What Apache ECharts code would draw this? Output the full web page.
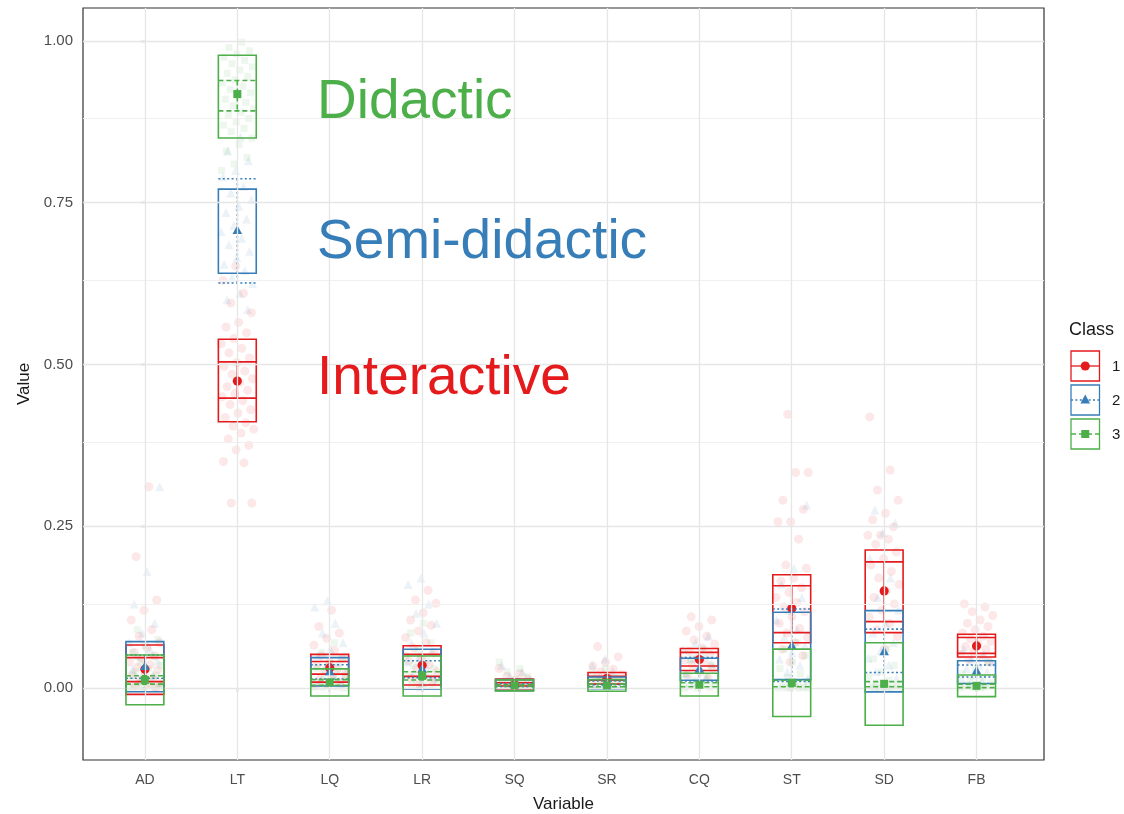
<!DOCTYPE html>
<html>
<head>
<meta charset="utf-8">
<title>Value by Variable and Class</title>
<script src="https://cdn.jsdelivr.net/npm/echarts@6/dist/echarts.min.js"></script>
<style>
  html, body { margin: 0; padding: 0; background: #ffffff; }
  #chart { width: 1124px; height: 814px; }
</style>
</head>
<body>
<div id="chart"></div>
<script>
// Variables shown along the x axis
const variables = ['AD', 'LT', 'LQ', 'LR', 'SQ', 'SR', 'CQ', 'ST', 'SD', 'FB'];
const classNames = ['1', '2', '3'];
const yTicks = [0, 0.25, 0.5, 0.75, 1];
const yMinorTicks = [0.125, 0.375, 0.625, 0.875];

// Class 1 (Interactive): mean, outer box, inner interval
const mean1    = [0.029, 0.4745, 0.031, 0.035, 0.0055, 0.015, 0.044, 0.123, 0.150, 0.065];
const boxLow1  = [-0.0098, 0.4116, 0.009, 0.0046, -0.003, 0.006, 0.027, 0.070, 0.0855, 0.048];
const boxHigh1 = [0.0665, 0.539, 0.052, 0.0654, 0.014, 0.024, 0.061, 0.175, 0.2133, 0.083];
const ciLow1   = [0.0098, 0.448, 0.0215, 0.018, 0.003, 0.012, 0.034, 0.0855, 0.1025, 0.0535];
const ciHigh1  = [0.047, 0.504, 0.041, 0.052, 0.008, 0.018, 0.055, 0.158, 0.195, 0.078];

// Class 2 (Semi-didactic)
const mean2    = [0.033, 0.707, 0.025, 0.029, 0.0045, 0.008, 0.029, 0.065, 0.056, 0.026];
const boxLow2  = [-0.0057, 0.641, 0.003, -0.002, -0.004, -0.001, 0.012, 0.013, -0.006, 0.007];
const boxHigh2 = [0.0716, 0.771, 0.047, 0.0598, 0.013, 0.017, 0.046, 0.117, 0.1195, 0.042];
const ciLow2   = [0.015, 0.626, 0.014, 0.016, 0.002, 0.005, 0.011, 0.010, 0.024, 0.017];
const ciHigh2  = [0.051, 0.787, 0.036, 0.042, 0.007, 0.011, 0.047, 0.122, 0.091, 0.0355];

// Class 3 (Didactic)
const mean3    = [0.0125, 0.918, 0.0086, 0.0186, 0.004, 0.004, 0.005, 0.008, 0.0065, 0.0033];
const boxLow3  = [-0.026, 0.850, -0.0124, -0.0124, -0.0045, -0.005, -0.0124, -0.044, -0.0575, -0.0134];
const boxHigh3 = [0.051, 0.978, 0.0296, 0.0495, 0.0125, 0.013, 0.0227, 0.060, 0.070, 0.020];
const ciLow3   = [0.006, 0.892, 0.004, 0.0124, 0.003, 0.002, 0.002, 0.002, 0.002, 0.0005];
const ciHigh3  = [0.019, 0.939, 0.013, 0.025, 0.005, 0.006, 0.008, 0.012, 0.0098, 0.006];

// Individual observations per variable (one list per variable), class 1
const obs1 = [
  [0.311, 0.203, 0.136, 0.12, 0.105, 0.09, 0.08, 0.07, 0.062, 0.055, 0.05, 0.045, 0.04, 0.036, 0.032, 0.028, 0.024, 0.02, 0.016, 0.012, 0.008, 0.005, 0.003, 0.0],
  [0.652, 0.63, 0.61, 0.595, 0.58, 0.565, 0.558, 0.549, 0.54, 0.532, 0.525, 0.518, 0.51, 0.503, 0.497, 0.49, 0.485, 0.478, 0.472, 0.466, 0.46, 0.455, 0.45, 0.444, 0.438, 0.43, 0.425, 0.418, 0.41, 0.405, 0.4, 0.394, 0.385, 0.375, 0.368, 0.35, 0.348, 0.286, 0.286],
  [0.12, 0.095, 0.085, 0.077, 0.066, 0.058, 0.05, 0.045, 0.04, 0.035, 0.03, 0.026, 0.022, 0.018, 0.014, 0.01, 0.006, 0.003],
  [0.151, 0.136, 0.131, 0.116, 0.105, 0.097, 0.088, 0.078, 0.07, 0.062, 0.055, 0.048, 0.042, 0.036, 0.03, 0.025, 0.02, 0.015, 0.01, 0.005],
  [0.03, 0.022, 0.018, 0.014, 0.011, 0.009, 0.007, 0.005, 0.003, 0.001],
  [0.064, 0.048, 0.04, 0.034, 0.029, 0.025, 0.021, 0.018, 0.015, 0.012, 0.009, 0.006, 0.003],
  [0.11, 0.105, 0.095, 0.088, 0.08, 0.074, 0.068, 0.062, 0.057, 0.052, 0.047, 0.043, 0.039, 0.035, 0.03, 0.025, 0.02, 0.015],
  [0.423, 0.333, 0.333, 0.29, 0.276, 0.257, 0.257, 0.23, 0.19, 0.185, 0.17, 0.165, 0.155, 0.148, 0.14, 0.132, 0.125, 0.118, 0.11, 0.1, 0.092, 0.085, 0.078, 0.07, 0.06, 0.05, 0.04],
  [0.419, 0.337, 0.306, 0.29, 0.27, 0.26, 0.249, 0.236, 0.236, 0.23, 0.222, 0.21, 0.2, 0.19, 0.18, 0.17, 0.16, 0.15, 0.14, 0.13, 0.12, 0.11, 0.1, 0.09, 0.08, 0.06],
  [0.13, 0.125, 0.118, 0.112, 0.105, 0.1, 0.095, 0.09, 0.085, 0.08, 0.076, 0.072, 0.068, 0.064, 0.06, 0.056, 0.052, 0.048, 0.044, 0.04]
];

// Class 2 observations
const obs2 = [
  [0.311, 0.18, 0.13, 0.1, 0.085, 0.07, 0.06, 0.05, 0.042, 0.035, 0.028, 0.02, 0.012, 0.005],
  [0.852, 0.83, 0.815, 0.8, 0.79, 0.775, 0.765, 0.755, 0.745, 0.735, 0.725, 0.715, 0.705, 0.695, 0.685, 0.675, 0.665, 0.655, 0.645, 0.635, 0.625, 0.61, 0.6, 0.585],
  [0.135, 0.125, 0.1, 0.085, 0.07, 0.06, 0.05, 0.04, 0.033, 0.026, 0.019, 0.012, 0.006],
  [0.17, 0.16, 0.13, 0.115, 0.1, 0.085, 0.07, 0.058, 0.048, 0.04, 0.032, 0.024, 0.016, 0.008],
  [0.035, 0.025, 0.018, 0.012, 0.008, 0.004, 0.001],
  [0.045, 0.035, 0.026, 0.018, 0.012, 0.006, 0.002],
  [0.08, 0.07, 0.06, 0.052, 0.045, 0.038, 0.03, 0.022, 0.015, 0.008],
  [0.283, 0.185, 0.16, 0.14, 0.12, 0.105, 0.09, 0.078, 0.066, 0.055, 0.045, 0.035, 0.025, 0.015, 0.008],
  [0.275, 0.255, 0.24, 0.2, 0.17, 0.14, 0.12, 0.1, 0.085, 0.07, 0.058, 0.046, 0.035, 0.025, 0.015, 0.005],
  [0.06, 0.052, 0.045, 0.04, 0.035, 0.03, 0.025, 0.02, 0.015, 0.01, 0.005]
];

// Class 3 observations
const obs3 = [
  [0.09, 0.075, 0.065, 0.055, 0.048, 0.04, 0.035, 0.03, 0.025, 0.02, 0.017, 0.014, 0.011, 0.008, 0.006, 0.004, 0.002, 0.001, 0.0, 0.0],
  [0.998, 0.99, 0.985, 0.98, 0.975, 0.97, 0.965, 0.96, 0.955, 0.95, 0.945, 0.94, 0.935, 0.93, 0.925, 0.92, 0.915, 0.91, 0.905, 0.9, 0.895, 0.89, 0.885, 0.88, 0.875, 0.87, 0.865, 0.86, 0.85, 0.84, 0.83, 0.82, 0.81, 0.8],
  [0.07, 0.055, 0.045, 0.038, 0.03, 0.024, 0.019, 0.015, 0.012, 0.009, 0.007, 0.005, 0.003, 0.002, 0.001, 0.0],
  [0.1, 0.085, 0.07, 0.06, 0.05, 0.042, 0.035, 0.03, 0.025, 0.02, 0.016, 0.012, 0.009, 0.006, 0.004, 0.002, 0.0],
  [0.04, 0.03, 0.025, 0.018, 0.014, 0.01, 0.007, 0.005, 0.003, 0.002, 0.001, 0.0],
  [0.03, 0.022, 0.016, 0.012, 0.008, 0.005, 0.003, 0.002, 0.001, 0.0],
  [0.06, 0.045, 0.035, 0.028, 0.022, 0.016, 0.012, 0.008, 0.005, 0.003, 0.001, 0.0, 0.0],
  [0.07, 0.06, 0.05, 0.04, 0.03, 0.022, 0.016, 0.01, 0.006, 0.004, 0.002, 0.001, 0.0, 0.0, 0.0, 0.0],
  [0.06, 0.045, 0.035, 0.025, 0.018, 0.012, 0.008, 0.005, 0.003, 0.002, 0.001, 0.0, 0.0, 0.0, 0.0],
  [0.04, 0.03, 0.022, 0.016, 0.011, 0.008, 0.005, 0.003, 0.002, 0.001, 0.0, 0.0]
];

// Annotation labels for the three classes
const classLabels = ['Interactive', 'Semi-didactic', 'Didactic'];

// ---- styling ----
const FONT = '"Liberation Sans", Arial, Helvetica, sans-serif';
const COLORS = ['#E41A1C', '#377EB8', '#4DAF4A'];
const DASHES = [null, [2, 2.4], [5, 3]];
const SYMBOLS = ['circle', 'triangle', 'rect'];
const BOX_HALF = 0.205;   // half box width, in category units
const JITTER = 0.18;      // horizontal spread of the observations

const stats = [
  [mean1, boxLow1, boxHigh1, ciLow1, ciHigh1],
  [mean2, boxLow2, boxHigh2, ciLow2, ciHigh2],
  [mean3, boxLow3, boxHigh3, ciLow3, ciHigh3]
];
const observations = [obs1, obs2, obs3];

// Spread points sideways with a low-discrepancy sequence so they don't stack
function spread(k) {
  const f = ((k + 1) * 0.6180339887) % 1;
  return (f - 0.5) * 2 * JITTER;
}

function markShape(kind, cx, cy, color) {
  if (kind === 'circle') {
    return { type: 'circle', shape: { cx: cx, cy: cy, r: 4.6 }, style: { fill: color } };
  }
  if (kind === 'triangle') {
    return { type: 'polygon', shape: { points: [[cx, cy - 5.4], [cx + 4.8, cy + 3.4], [cx - 4.8, cy + 3.4]] }, style: { fill: color } };
  }
  return { type: 'rect', shape: { x: cx - 4, y: cy - 4, width: 8, height: 8 }, style: { fill: color } };
}

function boxRenderer(ci) {
  const color = COLORS[ci];
  const dash = DASHES[ci];
  return function (params, api) {
    const x = api.value(0);
    const pLowL = api.coord([x - BOX_HALF, api.value(1)]);
    const pHighR = api.coord([x + BOX_HALF, api.value(2)]);
    const ciLo = api.coord([x, api.value(3)]);
    const ciHi = api.coord([x, api.value(4)]);
    const m = api.coord([x, api.value(5)]);
    const left = pLowL[0], right = pHighR[0], cx = m[0];
    const lineStyle = { stroke: color, lineWidth: 1.6, fill: null };
    const ciStyle = { stroke: color, lineWidth: 1.6, lineDash: dash, fill: null };
    return {
      type: 'group',
      children: [
        { type: 'rect', shape: { x: left, y: pHighR[1], width: right - left, height: pLowL[1] - pHighR[1] }, style: Object.assign({}, lineStyle) },
        { type: 'line', shape: { x1: left, y1: ciHi[1], x2: right, y2: ciHi[1] }, style: Object.assign({}, ciStyle) },
        { type: 'line', shape: { x1: left, y1: ciLo[1], x2: right, y2: ciLo[1] }, style: Object.assign({}, ciStyle) },
        { type: 'line', shape: { x1: cx, y1: ciHi[1], x2: cx, y2: ciLo[1] }, style: Object.assign({}, ciStyle) },
        markShape(SYMBOLS[ci], cx, m[1], color)
      ]
    };
  };
}

const series = [];

// Panel grid lines
series.push({
  type: 'scatter',
  data: [],
  z: 1,
  silent: true,
  markLine: {
    silent: true,
    symbol: ['none', 'none'],
    animation: false,
    label: { show: false },
    emphasis: { disabled: true },
    data: []
      .concat(yMinorTicks.map(v => ({ yAxis: v, lineStyle: { color: '#f0f0f0', width: 1, type: 'solid' } })))
      .concat(yTicks.map(v => ({ yAxis: v, lineStyle: { color: '#e6e6e6', width: 1.3, type: 'solid' } })))
      .concat(variables.map((_, i) => ({ xAxis: i, lineStyle: { color: '#e6e6e6', width: 1.3, type: 'solid' } })))
  }
});

// Jittered observations
observations.forEach((obs, ci) => {
  const pts = [];
  let k = ci * 7;
  obs.forEach((vals, vi) => {
    vals.forEach(v => { pts.push([vi + spread(k), v]); k++; });
  });
  series.push({
    type: 'scatter',
    name: classNames[ci],
    data: pts,
    z: 2,
    silent: true,
    symbol: SYMBOLS[ci],
    symbolSize: ci === 2 ? 7 : 9,
    itemStyle: { color: COLORS[ci], opacity: 0.1 }
  });
});

// Boxes, intervals and means
stats.forEach((s, ci) => {
  const data = variables.map((_, vi) => [vi, s[1][vi], s[2][vi], s[3][vi], s[4][vi], s[0][vi]]);
  series.push({
    type: 'custom',
    name: classNames[ci],
    data: data,
    z: 3 + ci,
    silent: true,
    clip: false,
    renderItem: boxRenderer(ci),
    encode: { x: 0, y: [1, 2, 3, 4, 5] }
  });
});

// Legend drawn as crossbar keys
const legendGraphics = [
  { type: 'text', left: 1069, top: 321, style: { text: 'Class', font: '18px ' + FONT, fill: '#1a1a1a' } }
];
const keyTops = [351, 385, 419];
keyTops.forEach((t, ci) => {
  const color = COLORS[ci];
  const midY = t + 15;
  const children = [
    { type: 'rect', shape: { x: 1071, y: t, width: 28.5, height: 30 }, style: { stroke: color, fill: null, lineWidth: 1.3 } },
    { type: 'line', shape: { x1: 1071, y1: midY, x2: 1099.5, y2: midY }, style: { stroke: color, lineWidth: 1.3, lineDash: DASHES[ci] } },
    markShape(SYMBOLS[ci], 1085.25, midY, color),
    { type: 'text', style: { text: classNames[ci], x: 1112, y: midY + 1, font: '15px ' + FONT, fill: '#1a1a1a', verticalAlign: 'middle' } }
  ];
  legendGraphics.push({ type: 'group', children: children });
});

// Large class annotations in the open area of the panel
const annotationY = [379, 243, 103];
classLabels.forEach((txt, ci) => {
  legendGraphics.push({
    type: 'text',
    z: 10,
    style: { text: txt, x: 317, y: annotationY[ci], font: '55px ' + FONT, fill: COLORS[ci], verticalAlign: 'middle' }
  });
});

const chart = echarts.init(document.getElementById('chart'), null, { renderer: 'canvas' });
chart.setOption({
  animation: false,
  backgroundColor: '#ffffff',
  textStyle: { fontFamily: FONT },
  grid: {
    left: 83, right: 80, top: 8, bottom: 54,
    show: true, borderColor: '#333333', borderWidth: 1.2, backgroundColor: '#ffffff',
    containLabel: false,
    outerBoundsMode: 'none'
  },
  xAxis: {
    type: 'value',
    min: -0.67,
    max: 9.73,
    name: 'Variable',
    nameLocation: 'middle',
    nameGap: 36,
    nameTextStyle: { fontSize: 17, color: '#1a1a1a', fontFamily: FONT },
    axisLine: { show: false },
    splitLine: { show: false },
    axisTick: { show: true, length: 4, lineStyle: { color: '#333333', width: 1.2 }, customValues: variables.map((_, i) => i) },
    axisLabel: {
      customValues: variables.map((_, i) => i),
      formatter: v => variables[Math.round(v)],
      margin: 13, fontSize: 14, color: '#4d4d4d', fontFamily: FONT
    }
  },
  yAxis: {
    type: 'value',
    min: -0.1113,
    max: 1.051,
    name: 'Value',
    nameLocation: 'middle',
    nameGap: 42,
    nameRotate: 90,
    nameTextStyle: { fontSize: 17, color: '#1a1a1a', fontFamily: FONT },
    axisLine: { show: false },
    splitLine: { show: false },
    axisTick: { show: true, length: 4, lineStyle: { color: '#333333', width: 1.2 }, customValues: yTicks },
    axisLabel: {
      customValues: yTicks,
      formatter: v => v.toFixed(2),
      margin: 10, fontSize: 15, color: '#4d4d4d', fontFamily: FONT
    }
  },
  graphic: legendGraphics,
  series: series
});
</script>
</body>
</html>
